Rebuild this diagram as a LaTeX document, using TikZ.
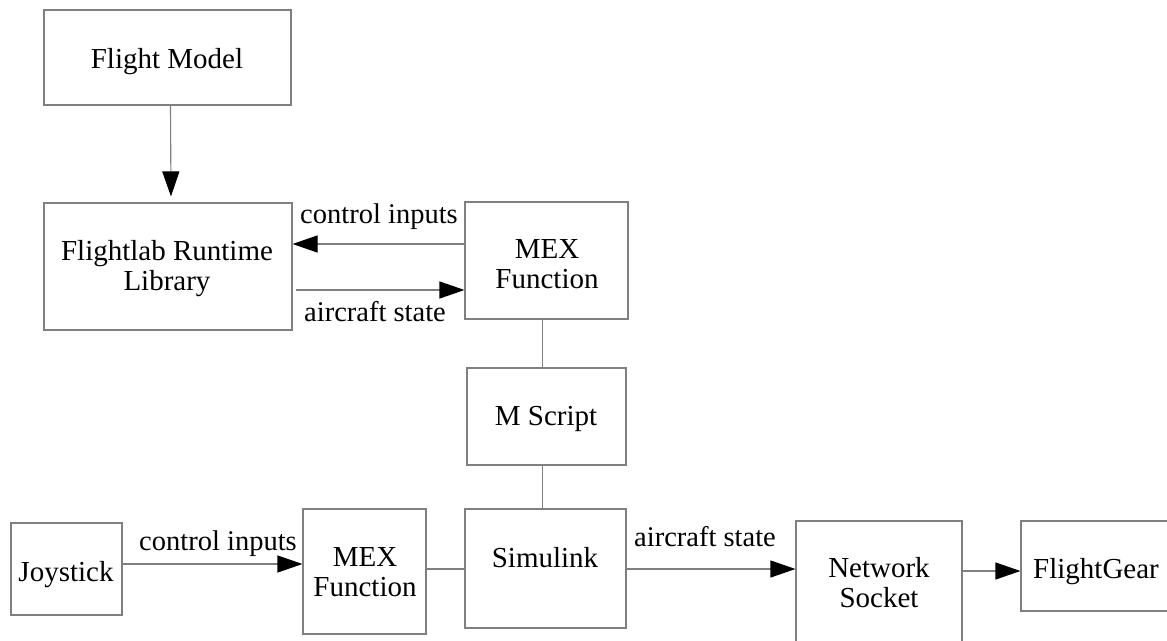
\documentclass[tikz,border=0pt]{standalone}
\usepackage{fontspec}
\setmainfont{Liberation Serif}
\usetikzlibrary{arrows.meta}
\definecolor{linegray}{gray}{0.5}
\begin{document}
\begin{tikzpicture}[x=1pt,y=-1pt,
  box/.style={draw=linegray, line width=1.1pt, rectangle, inner sep=0pt},
  txt/.style={font=\fontsize{29}{30}\selectfont, inner sep=0pt, anchor=base, align=center},
  lbl/.style={font=\fontsize{28.5}{30}\selectfont, inner sep=0pt, anchor=base},
  conn/.style={draw=linegray, line width=1.1pt},
  arr/.style={conn, -{Triangle[length=25pt,width=17pt,black]}}]
\useasboundingbox (0,0) rectangle (1167,640);
\clip (0,0) rectangle (1167,640);
\fill[white] (0,0) rectangle (1167,640);

% boxes
\node[box, minimum width=247pt, minimum height=95pt]  (fm)   at (167.5,57.5) {};
\node[box, minimum width=248pt, minimum height=127pt] (fl)   at (168,266.5) {};
\node[box, minimum width=163pt, minimum height=117pt] (mext) at (546.5,260.5) {};
\node[box, minimum width=159pt, minimum height=97pt]  (ms)   at (546.5,416.5) {};
\node[box, minimum width=161pt, minimum height=119pt] (sim)  at (545.5,568.5) {};
\node[box, minimum width=123pt, minimum height=125pt] (mexb) at (364.5,571.5) {};
\node[box, minimum width=111pt, minimum height=92pt]  (joy)  at (66.5,569) {};
\node[box, minimum width=166pt, minimum height=149pt] (ns)   at (879,595.5) {};
\node[box, minimum width=159pt, minimum height=90pt]  (fg)   at (1100.5,566) {};

% texts
\node[txt] (tfm)   at (167,68)  {Flight Model};
\node[txt] (tfl)   at (167,290) {Flightlab Runtime\\Library};
\node[txt] (tmext) at (547,288) {MEX\\Function};
\node[txt] (tms)   at (546,425) {M Script};
\node[txt] (tsim)  at (545,567) {Simulink};
\node[txt] (tmexb) at (365,596) {MEX\\Function};
\node[txt] (tjoy)  at (66,581)  {Joystick};
\node[txt] (tns)   at (879,607) {Network\\Socket};
\node[txt] (tfg)   at (1096,578) {FlightGear};

% connector levels
\coordinate (y1) at (0,244);
\coordinate (y2) at (0,290);
\coordinate (y3) at (0,564);
\coordinate (y4) at (0,569);
\coordinate (y5) at (0,571);

% connectors
\draw[arr, shorten >=6pt] ([xshift=3pt]fm.south) -- ([xshift=3pt]fl.north);
\draw[arr] (mext.west |- y1) -- (fl.east |- y1);
\draw[arr, shorten <=3pt] (fl.east |- y2) -- (mext.west |- y2);
\draw[conn] ([xshift=-4pt]mext.south) -- ([xshift=-4pt]ms.north);
\draw[conn] ([xshift=-4pt]ms.south) -- ([xshift=-3pt]sim.north);
\draw[arr] (joy.east |- y3) -- (mexb.west |- y3);
\draw[conn] (mexb.east |- y4) -- (sim.west |- y4);
\draw[arr] (sim.east |- y4) -- (ns.west |- y4);
\draw[arr] (ns.east |- y5) -- (fg.west |- y5);

% connector labels
\node[lbl] (lci1) at (379,223) {control inputs};
\node[lbl] (las1) at (375,321) {aircraft state};
\node[lbl] (lci2) at (218,550) {control inputs};
\node[lbl] (las2) at (705,546) {aircraft state};
\end{tikzpicture}
\end{document}
